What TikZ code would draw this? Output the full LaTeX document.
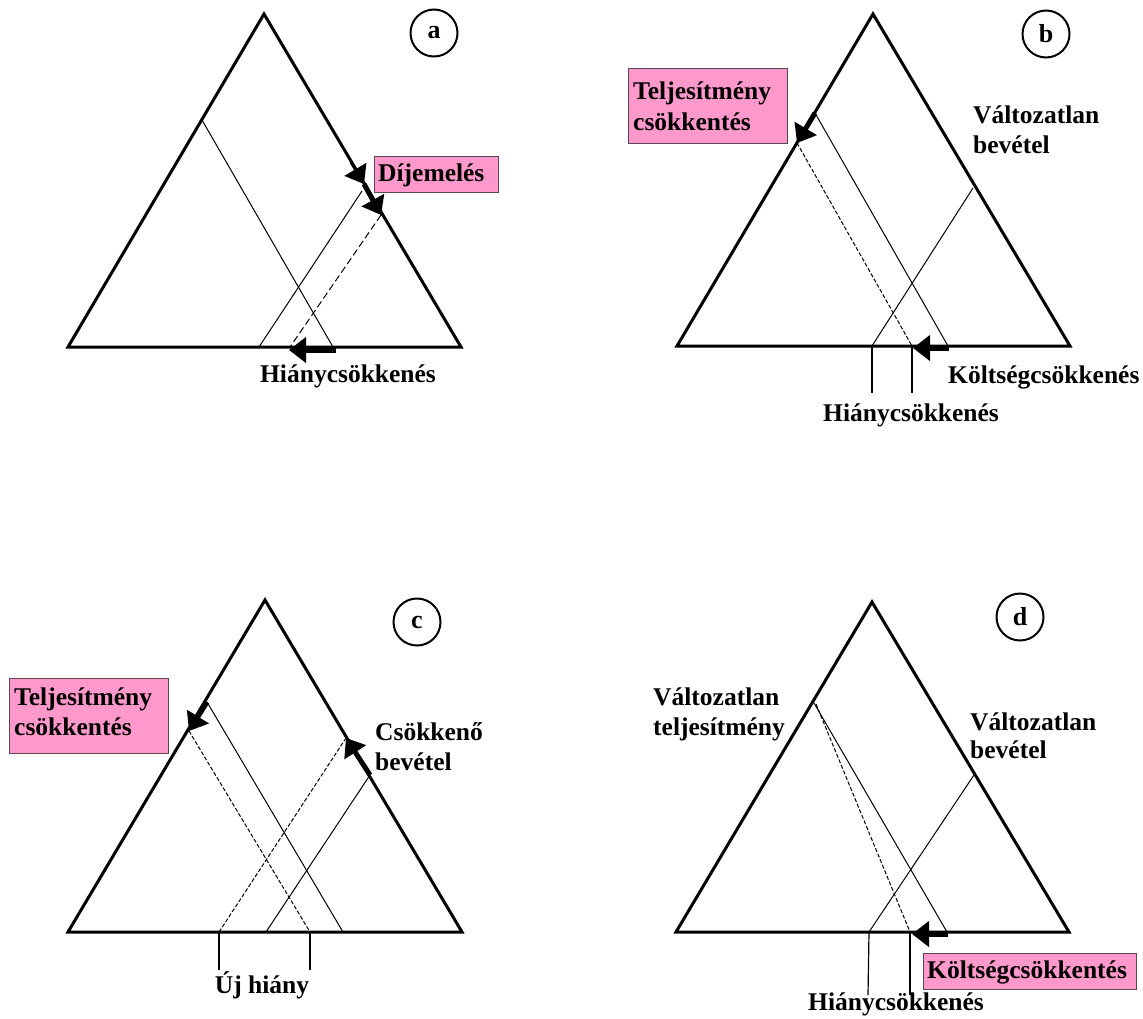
\documentclass[tikz,border=0pt]{standalone}
\usepackage{fontspec}
\setmainfont{Liberation Serif}
\usetikzlibrary{arrows.meta}
\definecolor{boxpink}{RGB}{255,153,204}
\definecolor{boxedge}{RGB}{90,70,80}
\begin{document}
\begin{tikzpicture}[x=1pt,y=-1pt,
  tri/.style={line width=3pt,line join=miter},
  thinline/.style={line width=1pt},
  dashline/.style={line width=1pt,dash pattern=on 4pt off 2pt},
  longdash/.style={line width=1pt,dash pattern=on 7pt off 3.5pt},
  tickline/.style={line width=1.2pt},
  bigarrow/.style={line width=5pt,-{Triangle[length=17pt,width=25pt]}},
  sidearrow/.style={line width=3pt,-{Triangle[length=17pt,width=25pt]}},
  lbl/.style={font=\fontsize{25.5}{31}\selectfont\bfseries,inner sep=0pt},
  pinkbox/.style={fill=boxpink,draw=boxedge,line width=1.2pt,inner sep=0pt},
  tag/.style={circle,draw,line width=2pt,minimum size=47pt,inner sep=0pt,
              font=\fontsize{26}{31}\selectfont\bfseries}]
\useasboundingbox (0,0) rectangle (1143,1018);

% ---------------- panel a ----------------
\coordinate (aT) at (264,14);
\coordinate (aL) at (68,347);
\coordinate (aR) at (461,347);
\coordinate (a1) at (202,120);
\coordinate (a2) at (333,347);
\coordinate (a3) at (259,347);
\coordinate (a4) at (362,191);
\coordinate (a5) at (381,215);
\coordinate (a6) at (290,347);
\coordinate (a7) at (351,162);
\coordinate (a8) at (364,184);
\coordinate (a9) at (336,350);
\coordinate (a10) at (289,350);
\draw[tri] (aT) -- (aL) -- (aR) -- cycle;
\draw[thinline] (a1) -- (a2);
\draw[thinline] (a3) -- (a4);
\draw[longdash] (a5) -- (a6);
\draw[sidearrow] (a7) -- (a8);
\draw[bigarrow] (a8) -- (a5);
\draw[bigarrow] (a9) -- (a10);
\node[tag] (tagA) at (434,33) {a};
\node[pinkbox,anchor=north west,minimum width=124pt,minimum height=36pt] (boxA) at (374,156) {};
\node[lbl,anchor=base west] (txtA1) at (378,181) {Díjemelés};
\node[lbl,anchor=base] (txtA2) at (348,382) {Hiánycsökkenés};

% ---------------- panel b ----------------
\coordinate (bT) at (873,14);
\coordinate (bL) at (677,346);
\coordinate (bR) at (1070,346);
\coordinate (b1) at (815,113);
\coordinate (b2) at (948,346);
\coordinate (b3) at (797,143);
\coordinate (b4) at (912,346);
\coordinate (b5) at (872,346);
\coordinate (b6) at (973,188);
\coordinate (b7) at (949,348);
\coordinate (b8) at (913,348);
\coordinate (b9) at (872,393);
\coordinate (b10) at (912,393);
\draw[tri] (bT) -- (bL) -- (bR) -- cycle;
\draw[thinline] (b1) -- (b2);
\draw[dashline] (b3) -- (b4);
\draw[thinline] (b5) -- (b6);
\draw[bigarrow] (b1) -- (b3);
\draw[bigarrow] (b7) -- (b8);
\draw[tickline] (b5) -- (b9);
\draw[tickline] (b4) -- (b10);
\node[tag] (tagB) at (1046,34) {b};
\node[pinkbox,anchor=north west,minimum width=159pt,minimum height=75pt] (boxB) at (628,68) {};
\node[lbl,anchor=base west] (txtB1) at (633,99) {Teljesítmény};
\node[lbl,anchor=base west] (txtB2) at (633,130) {csökkentés};
\node[lbl,anchor=base west] (txtB3) at (973,123) {Változatlan};
\node[lbl,anchor=base west] (txtB4) at (973,153) {bevétel};
\node[lbl,anchor=base west] (txtB5) at (948,383) {Költségcsökkenés};
\node[lbl,anchor=base] (txtB6) at (911,421) {Hiánycsökkenés};

% ---------------- panel c ----------------
\coordinate (cT) at (265,600);
\coordinate (cL) at (68,932);
\coordinate (cR) at (462,932);
\coordinate (c1) at (207,702);
\coordinate (c2) at (343,932);
\coordinate (c3) at (189,731);
\coordinate (c4) at (310,932);
\coordinate (c5) at (266,932);
\coordinate (c6) at (370,775);
\coordinate (c7) at (219,932);
\coordinate (c8) at (346,738);
\coordinate (c9) at (219,970);
\coordinate (c10) at (310,970);
\draw[tri] (cT) -- (cL) -- (cR) -- cycle;
\draw[thinline] (c1) -- (c2);
\draw[dashline] (c3) -- (c4);
\draw[thinline] (c5) -- (c6);
\draw[dashline] (c7) -- (c8);
\draw[bigarrow] (c1) -- (c3);
\draw[bigarrow] (c6) -- (c8);
\draw[tickline] (c7) -- (c9);
\draw[tickline] (c4) -- (c10);
\node[tag] (tagC) at (417,622) {c};
\node[pinkbox,anchor=north west,minimum width=159pt,minimum height=75pt] (boxC) at (9,678) {};
\node[lbl,anchor=base west] (txtC1) at (14,705) {Teljesítmény};
\node[lbl,anchor=base west] (txtC2) at (14,735) {csökkentés};
\node[lbl,anchor=base west] (txtC3) at (375,740) {Csökkenő};
\node[lbl,anchor=base west] (txtC4) at (375,770) {bevétel};
\node[lbl,anchor=base] (txtC5) at (262,993) {Új hiány};

% ---------------- panel d ----------------
\coordinate (dT) at (872,602);
\coordinate (dL) at (676,932);
\coordinate (dR) at (1069,932);
\coordinate (d1) at (814,703);
\coordinate (d2) at (947,932);
\coordinate (d3) at (816,704);
\coordinate (d4) at (910,932);
\coordinate (d5) at (869,932);
\coordinate (d6) at (974,775);
\coordinate (d7) at (948,934);
\coordinate (d8) at (912,934);
\coordinate (d9) at (868,995);
\coordinate (d10) at (910,995);
\draw[tri] (dT) -- (dL) -- (dR) -- cycle;
\draw[thinline] (d1) -- (d2);
\draw[dashline] (d3) -- (d4);
\draw[thinline] (d5) -- (d6);
\draw[bigarrow] (d7) -- (d8);
\draw[tickline] (d5) -- (d9);
\draw[tickline] (d4) -- (d10);
\node[tag] (tagD) at (1020,617) {d};
\node[lbl,anchor=base west] (txtD1) at (653,705) {Változatlan};
\node[lbl,anchor=base west] (txtD2) at (653,735) {teljesítmény};
\node[lbl,anchor=base west] (txtD3) at (970,730) {Változatlan};
\node[lbl,anchor=base west] (txtD4) at (970,758) {bevétel};
\node[pinkbox,anchor=north west,minimum width=213pt,minimum height=36pt] (boxD) at (923,953) {};
\node[lbl,anchor=base west] (txtD5) at (927,978) {Költségcsökkentés};
\node[lbl,anchor=base] (txtD6) at (896,1010) {Hiánycsökkenés};
\end{tikzpicture}
\end{document}
